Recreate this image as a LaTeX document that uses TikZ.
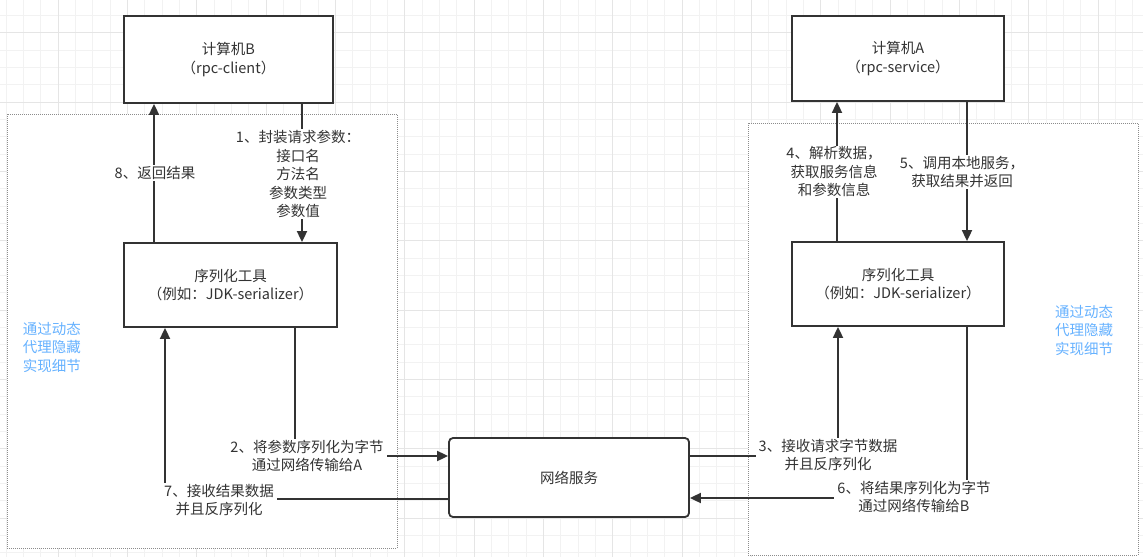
\documentclass[tikz,border=0pt]{standalone}
\usepackage{fontspec}
\setmainfont{Noto Sans CJK SC}
\usetikzlibrary{arrows.meta}

\definecolor{linegray}{RGB}{51,51,51}
\definecolor{hintblue}{RGB}{102,178,255}

\begin{document}
\begin{tikzpicture}[x=1pt,y=-1pt,
    txt/.style={font=\fontsize{14.5}{18.5}\selectfont, text=linegray, align=center},
    box/.style={txt, draw=linegray, line width=1.8pt, fill=white, inner sep=0pt},
    area/.style={draw=black!45, line width=0.8pt, dash pattern=on 1pt off 1pt, fill=white},
    ln/.style={draw=linegray, line width=1.8pt},
    arr/.style={ln, -{Triangle[length=11pt,width=10pt]}},
    lbl/.style={txt, fill=white, inner ysep=1pt, inner xsep=3pt},
    hint/.style={txt, text=hintblue}]

\useasboundingbox (0,0) rectangle (1143,557);
\fill[white] (0,0) rectangle (1143,557);

% ============================================
% 1. SIATKA
% ============================================
\begin{scope}
    \clip (0,0) rectangle (1143,557);
    \foreach \i in {0,...,66}
        \draw[black!5, line width=0.8pt] ({6+17.333*\i},0) -- ({6+17.333*\i},557);
    \foreach \j in {0,...,33}
        \draw[black!5, line width=0.8pt] (0,{-2+17.333*\j}) -- (1143,{-2+17.333*\j});
    \foreach \i in {0,...,17}
        \draw[black!10, line width=0.8pt] ({-11.3+69.333*\i},0) -- ({-11.3+69.333*\i},557);
    \foreach \j in {0,...,8}
        \draw[black!10, line width=0.8pt] (0,{-36.6+69.333*\j}) -- (1143,{-36.6+69.333*\j});
\end{scope}

% ============================================
% 2. OBSZARY
% ============================================
\draw[area] (7,114) rectangle (397,548);
\draw[area] (748,123) rectangle (1138,555);

\node[hint] (hintB) at (52,347) {通过动态\\代理隐藏\\实现细节};
\node[hint] (hintA) at (1084,330) {通过动态\\代理隐藏\\实现细节};

% ============================================
% 3. WEZLY
% ============================================
\node[box, minimum width=209, minimum height=87] (compB) at (228.5,59.5) {计算机B\\（rpc-client）};
\node[box, minimum width=213, minimum height=84] (serB) at (230.5,285) {序列化工具\\（例如：JDK-serializer）};
\node[box, minimum width=212, minimum height=85] (compA) at (898,58.5) {计算机A\\（rpc-service）};
\node[box, minimum width=212, minimum height=84] (serA) at (898,284) {序列化工具\\（例如：JDK-serializer）};
\node[box, rounded corners=4pt, minimum width=240, minimum height=79] (net) at (569,477.5) {网络服务};

% ============================================
% 4. STRZALKI
% ============================================
% lewa strona
\draw[arr] (154,0 |- serB.north) -- (154,0 |- compB.south);
\draw[arr] (302,0 |- compB.south) -- (302,0 |- serB.north);
\draw[arr] (295,0 |- serB.south) |- (net.west |- 0,456);
\draw[arr] (net.west |- 0,499) -| (165,0 |- serB.south);

% prawa strona
\draw[arr] (837,0 |- serA.north) -- (837,0 |- compA.south);
\draw[arr] (967,0 |- compA.south) -- (967,0 |- serA.north);
\draw[arr] (net.east |- 0,456) -| (838,0 |- serA.south);
\draw[arr] (967,0 |- serA.south) |- (net.east |- 0,498);

% ============================================
% 5. OPISY
% ============================================
\node[lbl] (l1) at (298,174) {1、封装请求参数：\\接口名\\方法名\\参数类型\\参数值};
\node[lbl] (l2) at (307,456) {2、将参数序列化为字节\\通过网络传输给A};
\node[lbl] (l3) at (828,455) {3、接收请求字节数据\\并且反序列化};
\node[lbl] (l4) at (834,172) {4、解析数据，\\获取服务信息\\和参数信息};
\node[lbl] (l5) at (962,172) {5、调用本地服务，\\获取结果并返回};
\node[lbl] (l6) at (914,497) {6、将结果序列化为字节\\通过网络传输给B};
\node[lbl] (l7) at (219,500) {7、接收结果数据\\并且反序列化};
\node[lbl] (l8) at (155,173) {8、返回结果};

\end{tikzpicture}
\end{document}
